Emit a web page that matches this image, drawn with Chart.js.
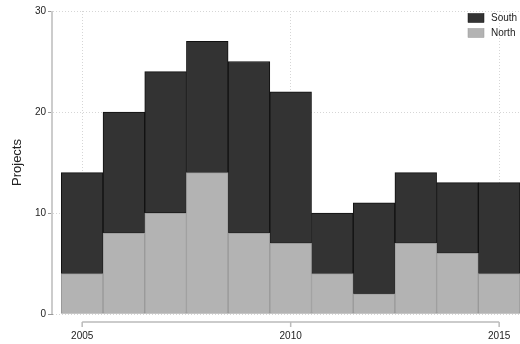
<!DOCTYPE html>
<html>
<head>
<meta charset="utf-8">
<script src="https://cdn.jsdelivr.net/npm/chart.js@4.4.1/dist/chart.umd.min.js"></script>
<style>
  html, body { margin: 0; padding: 0; background: #fff; }
  #wrap { width: 520px; height: 344px; }
</style>
</head>
<body>
<div id="wrap"><canvas id="chart"></canvas></div>
<script>
// chart data
const years = [2005, 2006, 2007, 2008, 2009, 2010, 2011, 2012, 2013, 2014, 2015];
const north = [4, 8, 10, 14, 8, 7, 4, 2, 7, 6, 4];
const south = [10, 12, 14, 13, 17, 15, 6, 9, 7, 7, 9];
const xTicks = [2005, 2010, 2015];
const yTicks = [0, 10, 20, 30];

const FONT = 'Liberation Sans, Arial, sans-serif';

// solid y axis line + detached x range line below the plot (2005..2015)
const axisLines = {
  id: 'axisLines',
  afterDraw(chart) {
    const x = chart.scales.x;
    const y = chart.scales.y;
    const ctx = chart.ctx;
    ctx.save();
    ctx.strokeStyle = '#ccc';
    ctx.lineWidth = 2;
    ctx.beginPath();
    ctx.moveTo(y.right - 1, y.getPixelForValue(yTicks[yTicks.length - 1]));
    ctx.lineTo(y.right - 1, y.getPixelForValue(yTicks[0]));
    ctx.stroke();

    const y0 = chart.chartArea.bottom + 8;
    const a = x.getPixelForValue(xTicks[0]);
    const b = x.getPixelForValue(xTicks[xTicks.length - 1]);
    ctx.strokeStyle = '#bbb';
    ctx.lineWidth = 1.5;
    ctx.beginPath();
    ctx.moveTo(a, y0);
    ctx.lineTo(b, y0);
    xTicks.forEach(function(t) {
      const p = x.getPixelForValue(t);
      ctx.moveTo(p, y0);
      ctx.lineTo(p, y0 + 5);
    });
    ctx.stroke();
    ctx.restore();
  }
};

// small legend in the top right corner, South listed first
const cornerLegend = {
  id: 'cornerLegend',
  afterDraw(chart) {
    const ctx = chart.ctx;
    const items = chart.data.datasets.slice().reverse();
    ctx.save();
    ctx.font = '10px ' + FONT;
    ctx.textBaseline = 'middle';
    items.forEach(function(ds, i) {
      const cy = 18 + i * 15;
      ctx.fillStyle = ds.backgroundColor;
      ctx.fillRect(468, cy - 4.5, 16, 9);
      ctx.strokeStyle = ds.borderColor;
      ctx.lineWidth = 0.5;
      ctx.strokeRect(468, cy - 4.5, 16, 9);
      ctx.fillStyle = '#222';
      ctx.fillText(ds.label, 491, cy);
    });
    ctx.restore();
  }
};

new Chart(document.getElementById('chart'), {
  type: 'bar',
  data: {
    datasets: [
      {
        label: 'North',
        data: years.map(function(y, i) { return { x: y, y: north[i] }; }),
        backgroundColor: '#b3b3b3',
        borderColor: '#999',
        borderWidth: 1,
        borderSkipped: false
      },
      {
        label: 'South',
        data: years.map(function(y, i) { return { x: y, y: south[i] }; }),
        backgroundColor: '#333333',
        borderColor: '#111',
        borderWidth: 1,
        borderSkipped: false
      }
    ]
  },
  options: {
    responsive: true,
    maintainAspectRatio: false,
    animation: false,
    barPercentage: 1,
    categoryPercentage: 1,
    layout: { padding: { top: 11, right: 0, bottom: 0, left: 0 } },
    plugins: {
      legend: { display: false },
      tooltip: { enabled: false }
    },
    scales: {
      x: {
        type: 'linear',
        stacked: true,
        offset: false,
        min: 2004.3,
        max: 2015.5,
        afterBuildTicks: function(s) { s.ticks = xTicks.map(function(v) { return { value: v }; }); },
        afterFit: function(s) { s.height = 30; s.paddingLeft = 0; s.paddingRight = 0; },
        ticks: {
          font: { family: FONT, size: 10 },
          color: '#222',
          padding: 16,
          maxRotation: 0,
          callback: function(v) { return String(v); }
        },
        grid: { offset: false, color: '#d6d6d6', lineWidth: 1, drawTicks: false },
        border: { display: false, dash: [1, 2] }
      },
      y: {
        stacked: true,
        min: 0,
        max: 30,
        afterBuildTicks: function(s) { s.ticks = yTicks.map(function(v) { return { value: v }; }); },
        afterFit: function(s) { s.width = 53; },
        ticks: {
          font: { family: FONT, size: 10 },
          color: '#222',
          padding: 2
        },
        grid: { color: '#d6d6d6', lineWidth: 1, tickLength: 5, tickColor: '#999', drawTicks: true },
        border: { display: false, dash: [1, 2] },
        title: {
          display: true,
          text: 'Projects',
          font: { family: FONT, size: 13 },
          color: '#222',
          padding: { top: 10, bottom: 4 }
        }
      }
    }
  },
  plugins: [axisLines, cornerLegend]
});
</script>
</body>
</html>
